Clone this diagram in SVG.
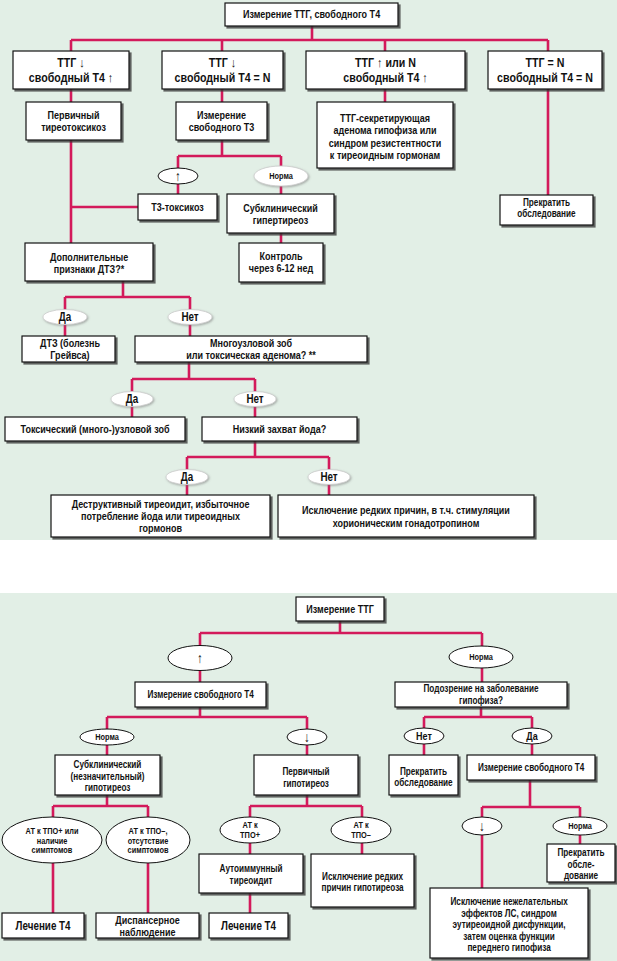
<svg xmlns="http://www.w3.org/2000/svg" width="617" height="961" viewBox="0 0 617 961">
<defs>
<filter id="sh" x="-10%" y="-10%" width="130%" height="140%">
<feDropShadow dx="2" dy="2" stdDeviation="0.7" flood-color="#333" flood-opacity="0.75"/>
</filter>
<filter id="glow" x="-20%" y="-30%" width="140%" height="160%">
<feDropShadow dx="1" dy="1" stdDeviation="1" flood-color="#777" flood-opacity="0.6"/>
</filter>
</defs>
<style>
.bg{fill:#e2efe6}
.box{fill:#fff;stroke:#111;stroke-width:1.2;filter:url(#sh)}
.ell{fill:#fff;stroke:#111;stroke-width:1}
.ells{fill:#fff;stroke:#ccc;stroke-width:0.8;filter:url(#glow)}
.con path{fill:none;stroke:#d31a5b;stroke-width:2.6}
text{font-family:"Liberation Sans",Arial,sans-serif;font-weight:bold;fill:#111;text-anchor:middle;transform-box:fill-box;transform-origin:center;transform:scale(0.82,1)}
.t13{font-size:13px}
.t12{font-size:12px}
.t11{font-size:11px}
.t10{font-size:10px}
.t9{font-size:9px}
.ar{font-size:14px}
</style>
<rect class="bg" x="0" y="0" width="617" height="540"/>
<rect class="bg" x="0" y="593" width="617" height="368"/>
<g class="con">
<path d="M312,26V40M71,40H548M71,40V51M222,40V51M385,40V51M548,40V51"/>
<path d="M71,89V243M71,207H138M222,89V102M385,89V102M548,89V195"/>
<path d="M222,140V156M178,156H281M178,156V194M281,156V194M281,233V243"/>
<path d="M123,281V297M65,297H190M65,297V336M190,297V336"/>
<path d="M189,362V379M132,379H255M132,379V417M255,379V417"/>
<path d="M255,441V457M187,457H329M187,457V495M329,457V495"/>
<path d="M340,621V633M200,633H482M200,633V682M482,633V682"/>
<path d="M200,707V717M107,717H307M107,717V755M307,717V755"/>
<path d="M481,707V717M424,717H532M424,717V755M532,717V755"/>
<path d="M107,795V806M53,806H148M53,806V913M148,806V913"/>
<path d="M307,795V806M250,806H362M250,806V854M362,806V854M250,893V913"/>
<path d="M530,780V807M482,807H580M482,807V888M580,807V844"/>
</g>
<g id="t_title"><rect class="box" x="225" y="3" width="173" height="23"/><text class="t11" x="311.5" y="18.5">Измерение ТТГ, свободного Т4</text></g>
<g id="t_b1"><rect class="box" x="13" y="51" width="116" height="38"/><text class="t13" x="71" y="67">ТТГ ↓</text><text class="t13" x="71" y="82">свободный Т4 ↑</text></g>
<g id="t_b2"><rect class="box" x="162" y="51" width="121" height="38"/><text class="t13" x="222.5" y="67">ТТГ ↓</text><text class="t13" x="222.5" y="82">свободный Т4 = N</text></g>
<g id="t_b3"><rect class="box" x="306" y="51" width="159" height="38"/><text class="t13" x="385.5" y="67">ТТГ ↑ или N</text><text class="t13" x="385.5" y="82">свободный Т4 ↑</text></g>
<g id="t_b4"><rect class="box" x="488" y="51" width="114" height="38"/><text class="t13" x="545" y="67">ТТГ = N</text><text class="t13" x="545" y="82">свободный Т4 = N</text></g>
<g id="t_prim"><rect class="box" x="26" y="102" width="95" height="38"/><text class="t11" x="73.5" y="119">Первичный</text><text class="t11" x="73.5" y="131">тиреотоксикоз</text></g>
<g id="t_t3"><rect class="box" x="176" y="102" width="91" height="38"/><text class="t11" x="221.5" y="119">Измерение</text><text class="t11" x="221.5" y="131">свободного Т3</text></g>
<g id="t_aden"><rect class="box" x="317" y="102" width="136" height="66"/><text class="t11" x="385" y="122">ТТГ-секретирующая</text><text class="t11" x="385" y="134">аденома гипофиза или</text><text class="t11" x="385" y="147">синдром резистентности</text><text class="t11" x="385" y="159">к тиреоидным гормонам</text></g>
<g id="t_up"><ellipse class="ell" cx="178" cy="176" rx="20" ry="8"/><text class="ar" x="178" y="181">↑</text></g>
<g id="t_norm"><ellipse class="ells" cx="281" cy="176" rx="27" ry="10"/><text class="t9" x="281" y="179.5">Норма</text></g>
<g id="t_t3tox"><rect class="box" x="138" y="194" width="79" height="26"/><text class="t11" x="177.5" y="211">Т3-токсикоз</text></g>
<g id="t_subcl"><rect class="box" x="227" y="194" width="107" height="39"/><text class="t11" x="280.5" y="212">Субклинический</text><text class="t11" x="280.5" y="224">гипертиреоз</text></g>
<g id="t_ctrl"><rect class="box" x="239" y="243" width="84" height="39"/><text class="t11" x="281" y="260">Контроль</text><text class="t11" x="281" y="272">через 6-12 нед</text></g>
<g id="t_stop"><rect class="box" x="500" y="195" width="93" height="30"/><text class="t10" x="546.5" y="206.5">Прекратить</text><text class="t10" x="546.5" y="217.5">обследование</text></g>
<g id="t_dtz"><rect class="box" x="25" y="243" width="128" height="38"/><text class="t11" x="89" y="261">Дополнительные</text><text class="t11" x="89" y="273">признаки ДТЗ?*</text></g>
<g id="t_da1"><ellipse class="ells" cx="65" cy="317" rx="22" ry="7.5"/><text class="t12" x="65" y="321">Да</text></g>
<g id="t_net1"><ellipse class="ells" cx="190" cy="317" rx="22" ry="7.5"/><text class="t12" x="190" y="321">Нет</text></g>
<g id="t_graves"><rect class="box" x="22" y="336" width="93" height="26"/><text class="t11" x="70" y="347.5">ДТЗ (болезнь</text><text class="t11" x="70" y="359">Грейвса)</text></g>
<g id="t_multi"><rect class="box" x="135" y="336" width="232" height="26"/><text class="t11" x="251" y="347">Многоузловой зоб</text><text class="t11" x="251" y="359">или токсическая аденома? **</text></g>
<g id="t_da2"><ellipse class="ells" cx="132" cy="399" rx="21" ry="7.5"/><text class="t12" x="132" y="403">Да</text></g>
<g id="t_net2"><ellipse class="ells" cx="255" cy="399" rx="21" ry="7.5"/><text class="t12" x="255" y="403">Нет</text></g>
<g id="t_toxg"><rect class="box" x="5" y="417" width="180" height="24"/><text class="t11" x="95" y="433">Токсический (много-)узловой зоб</text></g>
<g id="t_iod"><rect class="box" x="202" y="417" width="155" height="24"/><text class="t11" x="279.5" y="433">Низкий захват йода?</text></g>
<g id="t_da3"><ellipse class="ells" cx="187" cy="477" rx="21" ry="7.5"/><text class="t12" x="187" y="481">Да</text></g>
<g id="t_net3"><ellipse class="ells" cx="329" cy="477" rx="21" ry="7.5"/><text class="t12" x="329" y="481">Нет</text></g>
<g id="t_destr"><rect class="box" x="51" y="495" width="219" height="42"/><text class="t11" x="160.5" y="508.5">Деструктивный тиреоидит, избыточное</text><text class="t11" x="160.5" y="520.5">потребление йода или тиреоидных</text><text class="t11" x="160.5" y="532.5">гормонов</text></g>
<g id="t_rare"><rect class="box" x="278" y="495" width="256" height="42"/><text class="t11" x="406" y="514">Исключение редких причин, в т.ч. стимуляции</text><text class="t11" x="406" y="527">хорионическим гонадотропином</text></g>

<g id="b_title"><rect class="box" x="296" y="597" width="88" height="24"/><text class="t11" x="340" y="613">Измерение ТТГ</text></g>
<g id="b_up"><ellipse class="ell" cx="200" cy="658" rx="32" ry="12.5"/><text class="ar" x="200" y="663">↑</text></g>
<g id="b_norm"><ellipse class="ell" cx="481" cy="657" rx="32" ry="11"/><text class="t9" x="481" y="660.5">Норма</text></g>
<g id="b_ft4"><rect class="box" x="135" y="682" width="131" height="25"/><text class="t10" x="200.5" y="698">Измерение свободного Т4</text></g>
<g id="b_susp"><rect class="box" x="395" y="682" width="172" height="25"/><text class="t10" x="481" y="692.5">Подозрение на заболевание</text><text class="t10" x="481" y="704">гипофиза?</text></g>
<g id="b_norm2"><ellipse class="ell" cx="107" cy="737" rx="27" ry="8"/><text class="t9" x="107" y="740.5">Норма</text></g>
<g id="b_down"><ellipse class="ell" cx="307" cy="737" rx="20" ry="8"/><text class="ar" x="307" y="742">↓</text></g>
<g id="b_net"><ellipse class="ell" cx="424" cy="736" rx="20" ry="8"/><text class="t11" x="424" y="740">Нет</text></g>
<g id="b_da"><ellipse class="ell" cx="532" cy="736" rx="20" ry="8"/><text class="t11" x="532" y="740">Да</text></g>
<g id="b_subcl"><rect class="box" x="55" y="755" width="105" height="40"/><text class="t10" x="107.5" y="768.5">Субклинический</text><text class="t10" x="107.5" y="780">(незначительный)</text><text class="t10" x="107.5" y="791.5">гипотиреоз</text></g>
<g id="b_prim"><rect class="box" x="254" y="755" width="104" height="40"/><text class="t10" x="306" y="775.5">Первичный</text><text class="t10" x="306" y="787">гипотиреоз</text></g>
<g id="b_stop"><rect class="box" x="389" y="755" width="69" height="40"/><text class="t10" x="423.5" y="775.5">Прекратить</text><text class="t10" x="423.5" y="786.5">обследование</text></g>
<g id="b_ft4b"><rect class="box" x="467" y="755" width="128" height="25"/><text class="t10" x="531" y="771">Измерение свободного Т4</text></g>
<g id="b_atpos"><ellipse class="ell" cx="52" cy="840" rx="50" ry="23"/><text class="t9" x="52" y="834">АТ к ТПО+ или</text><text class="t9" x="52" y="844">наличие</text><text class="t9" x="52" y="853.5">симптомов</text></g>
<g id="b_atneg"><ellipse class="ell" cx="148" cy="840" rx="42" ry="23"/><text class="t9" x="148" y="834">АТ к ТПО–,</text><text class="t9" x="148" y="844">отсутствие</text><text class="t9" x="148" y="853.5">симптомов</text></g>
<g id="b_at2pos"><ellipse class="ell" cx="250" cy="830" rx="30" ry="13"/><text class="t9" x="250" y="828">АТ к</text><text class="t9" x="250" y="838.5">ТПО+</text></g>
<g id="b_at2neg"><ellipse class="ell" cx="361" cy="830" rx="30" ry="13"/><text class="t9" x="361" y="828">АТ к</text><text class="t9" x="361" y="838.5">ТПО–</text></g>
<g id="b_down2"><ellipse class="ell" cx="482" cy="826" rx="20" ry="9"/><text class="ar" x="482" y="831">↓</text></g>
<g id="b_norm3"><ellipse class="ell" cx="580" cy="826" rx="27" ry="9"/><text class="t9" x="580" y="829.5">Норма</text></g>
<g id="b_ait"><rect class="box" x="199" y="854" width="104" height="39"/><text class="t10" x="251" y="872.5">Аутоиммунный</text><text class="t10" x="251" y="884.5">тиреоидит</text></g>
<g id="b_rare"><rect class="box" x="311" y="854" width="103" height="53"/><text class="t10" x="362.5" y="880">Исключение редких</text><text class="t10" x="362.5" y="891.5">причин гипотиреоза</text></g>
<g id="b_stop2"><rect class="box" x="547" y="844" width="68" height="38"/><text class="t10" x="581" y="856.5">Прекратить</text><text class="t10" x="581" y="868">обсле-</text><text class="t10" x="581" y="879.5">дование</text></g>
<g id="b_excl"><rect class="box" x="430" y="888" width="158" height="70"/><text class="t10" x="509" y="905.5">Исключение нежелательных</text><text class="t10" x="509" y="917">эффектов ЛС, синдром</text><text class="t10" x="509" y="928.5">эутиреоидной дисфункции,</text><text class="t10" x="509" y="940">затем оценка функции</text><text class="t10" x="509" y="951.5">переднего гипофиза</text></g>
<g id="b_treat1"><rect class="box" x="2" y="913" width="82" height="25"/><text class="t12" x="43" y="930">Лечение Т4</text></g>
<g id="b_disp"><rect class="box" x="96" y="913" width="103" height="25"/><text class="t11" x="147.5" y="924">Диспансерное</text><text class="t11" x="147.5" y="936">наблюдение</text></g>
<g id="b_treat2"><rect class="box" x="209" y="913" width="79" height="25"/><text class="t12" x="248.5" y="930">Лечение Т4</text></g>
</svg>
